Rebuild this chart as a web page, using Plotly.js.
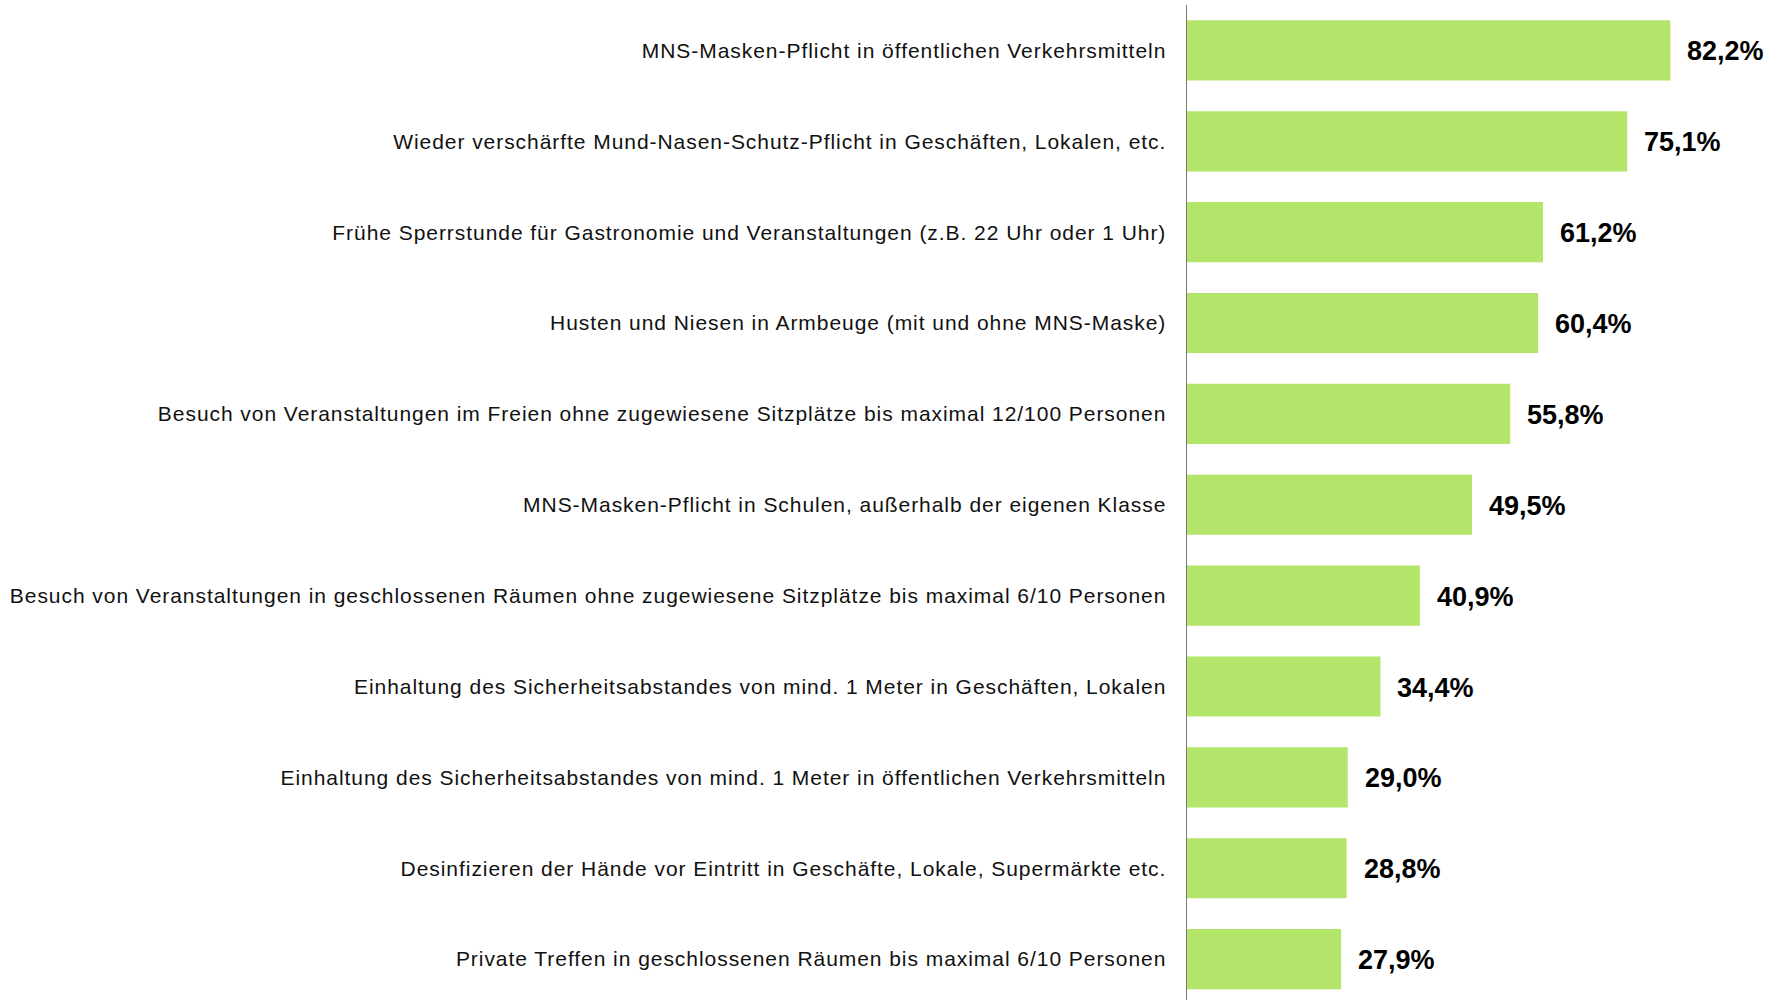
<!DOCTYPE html>
<html>
<head>
<meta charset="utf-8">
<script src="https://cdn.plot.ly/plotly-3.0.1.min.js"></script>
<style>
  html, body { margin: 0; padding: 0; background: #fff; }
  #chart { width: 1783px; height: 1000px; }
  .ytick text { letter-spacing: 0.95px; }
</style>
</head>
<body>
<div id="chart"></div>
<script>
const categories = [
  "MNS-Masken-Pflicht in öffentlichen Verkehrsmitteln",
  "Wieder verschärfte Mund-Nasen-Schutz-Pflicht in Geschäften, Lokalen, etc.",
  "Frühe Sperrstunde für Gastronomie und Veranstaltungen (z.B. 22 Uhr oder 1 Uhr)",
  "Husten und Niesen in Armbeuge (mit und ohne MNS-Maske)",
  "Besuch von Veranstaltungen im Freien ohne zugewiesene Sitzplätze bis maximal 12/100 Personen",
  "MNS-Masken-Pflicht in Schulen, außerhalb der eigenen Klasse",
  "Besuch von Veranstaltungen in geschlossenen Räumen ohne zugewiesene Sitzplätze bis maximal 6/10 Personen",
  "Einhaltung des Sicherheitsabstandes von mind. 1 Meter in Geschäften, Lokalen",
  "Einhaltung des Sicherheitsabstandes von mind. 1 Meter in öffentlichen Verkehrsmitteln",
  "Desinfizieren der Hände vor Eintritt in Geschäfte, Lokale, Supermärkte etc.",
  "Private Treffen in geschlossenen Räumen bis maximal 6/10 Personen"
];
const values = [82.2, 75.1, 61.2, 60.4, 55.8, 49.5, 40.9, 34.4, 29.0, 28.8, 27.9];

const fmt = v => v.toFixed(1).replace('.', ',') + '%';

const trace = {
  type: 'bar',
  orientation: 'h',
  x: values,
  y: categories,
  marker: { color: '#B2E56A', line: { width: 0 } },
  hoverinfo: 'none'
};

const annotations = values.map((v, i) => ({
  x: v,
  y: categories[i],
  xref: 'x',
  yref: 'y',
  text: fmt(v),
  showarrow: false,
  xanchor: 'left',
  yanchor: 'middle',
  xshift: 15,
  yshift: -1,
  font: { family: 'Liberation Sans, Arial, sans-serif', size: 27, color: '#000', weight: 'bold' }
}));

const layout = {
  width: 1783,
  height: 1000,
  margin: { l: 1187, r: 0, t: 5, b: 0, pad: 0 },
  paper_bgcolor: '#ffffff',
  plot_bgcolor: '#ffffff',
  showlegend: false,
  bargap: 0.338,
  xaxis: {
    range: [2.48, 100.8],
    showgrid: false,
    zeroline: false,
    showticklabels: false,
    ticks: '',
    showline: false,
    fixedrange: true
  },
  yaxis: {
    type: 'category',
    categoryorder: 'array',
    categoryarray: categories,
    range: [10.45, -0.5],
    showgrid: false,
    zeroline: false,
    showline: true,
    linecolor: '#7a7a7a',
    linewidth: 1.5,
    ticks: '',
    ticklabelstandoff: 15,
    tickfont: { family: 'Liberation Sans, Arial, sans-serif', size: 21, color: '#111111' },
    automargin: false,
    fixedrange: true
  },
  annotations: annotations
};

Plotly.newPlot('chart', [trace], layout, { displayModeBar: false, staticPlot: true });
</script>
</body>
</html>
